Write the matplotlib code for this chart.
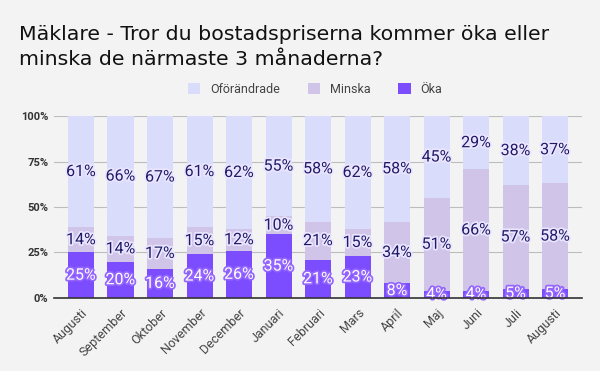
import numpy as np
import matplotlib
matplotlib.use('agg')
import matplotlib.pyplot as plt
import matplotlib.patheffects as pe

months = ['Augusti', 'September', 'Oktober', 'November', 'December', 'Januari',
          'Februari', 'Mars', 'April', 'Maj', 'Juni', 'Juli', 'Augusti']
oka = [25, 20, 16, 24, 26, 35, 21, 23, 8, 4, 4, 5, 5]
minska = [14, 14, 17, 15, 12, 10, 21, 15, 34, 51, 66, 57, 58]
oforandrade = [61, 66, 67, 61, 62, 55, 58, 62, 58, 45, 29, 38, 37]

plt.rcParams['font.family'] = ['Roboto', 'DejaVu Sans']

c_oka = '#7c4dff'
c_minska = '#d1c4e9'
c_ofor = '#dadcfb'
c_text = '#1f1a66'

fig = plt.figure(figsize=(6, 3.71), dpi=100, facecolor='#f3f3f3')
ax = fig.add_axes([0.09, 0.197, 0.88, 0.49])
ax.set_facecolor('#f3f3f3')

x = np.arange(len(months))
o = np.array(oka, float)
m = np.array(minska, float)
f = np.array(oforandrade, float)
tot = o + m + f
o, m, f = o / tot * 100, m / tot * 100, f / tot * 100

w = 0.66
ax.bar(x, o, w, color=c_oka, label='Öka', zorder=2)
ax.bar(x, m, w, bottom=o, color=c_minska, label='Minska', zorder=2)
ax.bar(x, f, w, bottom=o + m, color=c_ofor, label='Oförändrade', zorder=2)

halo = [pe.withStroke(linewidth=2.5, foreground='#ebe6ff')]
for i in x:
    ax.text(i, o[i] / 2, f'{oka[i]}%', ha='center', va='center', fontsize=11.5,
            color='white', zorder=3,
            path_effects=[pe.withStroke(linewidth=2.5, foreground='#9466ff')])
    ax.text(i, o[i] + m[i] / 2, f'{minska[i]}%', ha='center', va='center',
            fontsize=11.5, color=c_text, zorder=3, path_effects=halo)
    ax.text(i, o[i] + m[i] + f[i] / 2, f'{oforandrade[i]}%', ha='center', va='center',
            fontsize=11.5, color=c_text, zorder=3, path_effects=halo)

ax.set_xlim(-0.684, 12.68)
ax.set_ylim(0, 100)
ax.set_yticks([0, 25, 50, 75, 100])
ax.set_yticklabels(['0%', '25%', '50%', '75%', '100%'], fontsize=8,
                   fontweight='bold', color='#333333')
ax.set_xticks(x)
ax.set_xticklabels(months, rotation=45, ha='right', rotation_mode='anchor',
                   fontsize=9, color='#444444')
ax.tick_params(length=0, pad=4)
ax.tick_params(axis='x', pad=6)
ax.grid(axis='y', color='#bdbdbd', linewidth=0.8, zorder=0)
for s in ['top', 'right', 'left']:
    ax.spines[s].set_visible(False)
ax.spines['bottom'].set_color('#333333')
ax.spines['bottom'].set_linewidth(1.2)
ax.spines['bottom'].set_zorder(4)

h, l = ax.get_legend_handles_labels()
fig.legend(h[::-1], l[::-1], loc='center', bbox_to_anchor=(0.525, 0.76), ncol=3,
           frameon=False, fontsize=9, labelcolor='#444444', handlelength=1.0,
           handleheight=1.0, columnspacing=2.2, handletextpad=0.8)

# title is in a wider face than the rest; anchored on the 2nd line's baseline
fig.text(0.032, 1 - 65 / 371, 'Mäklare - Tror du bostadspriserna kommer öka eller\n'
         'minska de närmaste 3 månaderna?', fontsize=14.75, color='#111111',
         va='baseline', ha='left', linespacing=1.38, family='DejaVu Sans',
         multialignment='left')

fig.savefig('out.png', dpi=100, facecolor=fig.get_facecolor())
